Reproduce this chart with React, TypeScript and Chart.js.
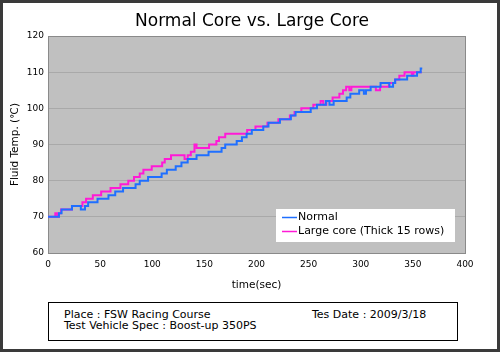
import React, { useEffect, useRef } from "react";
import { Chart, registerables } from "chart.js";

Chart.register(...registerables);

const chartTitle = "Normal Core vs. Large Core";
const xTitle = "time(sec)";
const yTitle = "Fluid Temp. (℃)";
const seriesNames = ["Normal", "Large core (Thick 15 rows)"];
const seriesColors = ["#1f6fff", "#ff1ad6"];

const normalTime = [0, 10.5, 13, 23, 31.5, 35.5, 38.5, 47.5, 58, 64.5, 72, 84, 88, 96, 109, 114, 122.5, 128, 134, 142.5, 154, 166.5, 170, 181, 186, 190.5, 195.5, 206.5, 211.5, 222.5, 233, 237.5, 252, 258, 266.5, 270, 274, 286.5, 290, 298.5, 303, 305, 309.5, 319, 327.5, 331, 333, 344.5, 354, 357.5, 359];
const normalTemp = [70, 71, 72, 73, 72, 73, 74, 75, 76, 77, 78, 79, 80, 81, 82, 83, 84, 85, 86, 87, 88, 89, 90, 91, 92, 93, 94, 95, 96, 97, 98, 99, 100, 101, 102, 101, 102, 103, 104, 105, 104, 105, 106, 107, 106, 107, 108, 109, 110, 111, 111];

const largeTime = [0, 7, 9, 10.5, 12.5, 23, 33, 36.5, 43, 51, 60, 69.5, 77, 82.5, 88, 91.5, 99.5, 109.5, 112, 118, 131, 134, 137, 140.5, 142.5, 154.5, 161.5, 164, 170, 191, 199, 210.5, 221, 232, 236.5, 243, 254.5, 261.5, 264, 267, 273, 279.5, 283, 286, 289, 291, 314.5, 318.5, 327, 333, 337, 342, 349, 350.5, 358.5];
const largeTemp = [70, 71, 70, 71, 72, 73, 74, 75, 76, 77, 78, 79, 80, 81, 82, 83, 84, 85, 86, 87, 86, 87, 88, 90, 89, 90, 91, 92, 93, 94, 95, 96, 97, 98, 99, 100, 101, 102, 101, 102, 103, 104, 105, 106, 105, 106, 105, 106, 107, 108, 109, 110, 109, 110, 110];

const xMin = 0, xMax = 400, xStep = 50;
const yMin = 60, yMax = 120, yStep = 10;

const infoPlace = "Place : FSW Racing Course";
const infoDate = "Tes Date : 2009/3/18";
const infoSpec = "Test Vehicle Spec : Boost-up 350PS";

const FONT = '"DejaVu Sans", Verdana, sans-serif';

const bgPlugin = {
  id: "plotBg",
  beforeDraw(chart: any) {
    const { ctx, chartArea: a } = chart;
    ctx.save();
    ctx.fillStyle = "#c0c0c0";
    ctx.fillRect(a.left, a.top, a.right - a.left, a.bottom - a.top);
    ctx.restore();
  },
  beforeDatasetsDraw(chart: any) {
    const { ctx, chartArea: a } = chart;
    ctx.save();
    ctx.strokeStyle = "#8a8a8a";
    ctx.lineWidth = 1;
    ctx.strokeRect(Math.round(a.left) + 0.5, Math.round(a.top) + 0.5, Math.round(a.right - a.left), Math.round(a.bottom - a.top));
    ctx.restore();
  },
};

const titlePlugin = {
  id: "customTitle",
  afterDraw(chart: any) {
    const { ctx } = chart;
    ctx.save();
    ctx.font = `17px ${FONT}`;
    ctx.fillStyle = "#000";
    ctx.textAlign = "center";
    ctx.textBaseline = "alphabetic";
    ctx.fillText(chartTitle, 252, 26);
    ctx.restore();
  },
};

const legendPlugin = {
  id: "insideLegend",
  afterDraw(chart: any) {
    const { ctx, chartArea: a } = chart;
    const right = a.right - 10;
    const left = right - 179;
    const bottom = a.bottom - 11;
    const top = bottom - 33;
    ctx.save();
    ctx.fillStyle = "#ffffff";
    ctx.fillRect(left, top, right - left, bottom - top);
    ctx.font = `11px ${FONT}`;
    ctx.textBaseline = "middle";
    ctx.textAlign = "left";
    chart.data.datasets.forEach((ds: any, i: number) => {
      const y = top + 8.5 + i * 14;
      ctx.strokeStyle = ds.borderColor;
      ctx.lineWidth = 1.5;
      ctx.beginPath();
      ctx.moveTo(left + 6, y);
      ctx.lineTo(left + 21, y);
      ctx.stroke();
      ctx.fillStyle = "#000";
      ctx.fillText(ds.label, left + 22, y);
    });
    ctx.restore();
  },
};

export default function App() {
  const ref = useRef<HTMLCanvasElement | null>(null);

  useEffect(() => {
    if (!ref.current) return;
    const toPoints = (ts: number[], vs: number[]) => ts.map((t, i) => ({ x: t, y: vs[i] }));
    const chart = new Chart(ref.current, {
      type: "line",
      data: {
        datasets: [
          {
            label: seriesNames[0],
            data: toPoints(normalTime, normalTemp),
            borderColor: seriesColors[0],
            backgroundColor: seriesColors[0],
            borderWidth: 2,
            pointRadius: 0,
            stepped: true,
            fill: false,
          },
          {
            label: seriesNames[1],
            data: toPoints(largeTime, largeTemp),
            borderColor: seriesColors[1],
            backgroundColor: seriesColors[1],
            borderWidth: 2,
            pointRadius: 0,
            stepped: true,
            fill: false,
          },
        ],
      },
      options: {
        animation: false,
        responsive: false,
        layout: { padding: { top: 36, right: 35, left: 0, bottom: 0 } },
        plugins: {
          legend: { display: false },
          title: { display: false },
          tooltip: { enabled: false },
        },
        scales: {
          x: {
            type: "linear",
            min: xMin,
            max: xMax,
            ticks: { stepSize: xStep, color: "#000", font: { family: FONT, size: 9 }, padding: 6, maxRotation: 0 },
            grid: { display: false, drawTicks: false },
            border: { display: true, color: "#8a8a8a" },
            title: { display: true, text: xTitle, color: "#000", font: { family: FONT, size: 10.5 }, padding: { top: 0, bottom: 8.7 } },
            afterFit: (s: any) => { s.height = 47; },
          },
          y: {
            type: "linear",
            min: yMin,
            max: yMax,
            ticks: { stepSize: yStep, color: "#000", font: { family: FONT, size: 9 }, padding: 4 },
            grid: { color: "#a9a9a9", drawTicks: false },
            border: { display: true, color: "#8a8a8a" },
            title: { display: true, text: yTitle, color: "#000", font: { family: FONT, size: 10.5 }, padding: { top: 8.7, bottom: 0 } },
            afterFit: (s: any) => { s.width = 48; },
          },
        },
      },
      plugins: [bgPlugin, titlePlugin, legendPlugin],
    } as any);
    return () => chart.destroy();
  }, []);

  return (
    <div style={{ position: "relative", width: 500, height: 352, background: "#fff", overflow: "hidden" }}>
      <style>{"body{margin:0}"}</style>
      <canvas ref={ref} width={500} height={300} style={{ position: "absolute", left: 0, top: 0, width: 500, height: 300 }} />
      <div
        style={{
          position: "absolute",
          left: 48,
          top: 302,
          width: 410,
          height: 39,
          boxSizing: "border-box",
          border: "1px solid #000",
          fontFamily: FONT,
          fontSize: 11,
          lineHeight: "11px",
          color: "#000",
        }}
      >
        <span style={{ position: "absolute", left: 15, top: 6, whiteSpace: "nowrap" }}>{infoPlace}</span>
        <span style={{ position: "absolute", left: 263, top: 6, whiteSpace: "nowrap" }}>{infoDate}</span>
        <span style={{ position: "absolute", left: 15, top: 17, whiteSpace: "nowrap" }}>{infoSpec}</span>
      </div>
      <div
        style={{
          position: "absolute",
          left: 0,
          top: 0,
          width: 500,
          height: 352,
          boxSizing: "border-box",
          border: "3px solid #3a3a3a",
          pointerEvents: "none",
        }}
      />
    </div>
  );
}
